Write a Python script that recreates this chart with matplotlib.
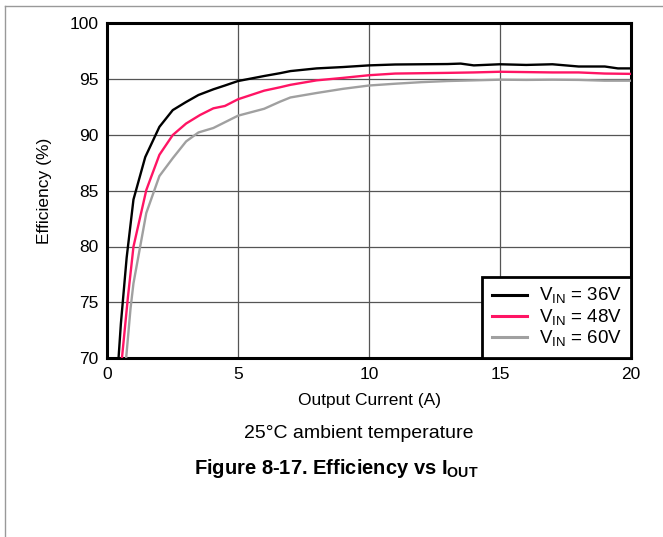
import matplotlib
matplotlib.use('Agg')
import matplotlib.pyplot as plt
from matplotlib.lines import Line2D

plt.rcParams['font.family'] = ['Liberation Sans', 'DejaVu Sans']
plt.rcParams['mathtext.fontset'] = 'custom'
plt.rcParams['mathtext.rm'] = 'Liberation Sans'
plt.rcParams['mathtext.bf'] = 'Liberation Sans:bold'

# data (output current A, efficiency %)
i_36 = [0.40, 0.44, 0.53, 0.75, 1.01, 1.46, 2.0, 2.51, 3.0, 3.49, 4.06, 4.5, 5.0, 6.0,
        6.6, 7.0, 8.0, 9.0, 10.0, 11.0, 12.0, 13.0, 13.5, 14.0, 15.0, 16.0, 17.0, 18.0,
        19.0, 19.5, 20.0]
eff_36 = [68.0, 70.0, 73.1, 79.0, 84.2, 88.0, 90.7, 92.2, 92.9, 93.55, 94.06, 94.4, 94.8,
          95.25, 95.5, 95.69, 95.93, 96.05, 96.2, 96.28, 96.3, 96.32, 96.36, 96.2, 96.3,
          96.24, 96.3, 96.1, 96.1, 95.93, 95.93]

i_48 = [0.52, 0.57, 0.8, 1.01, 1.5, 2.0, 2.51, 3.02, 3.55, 4.06, 4.5, 5.0, 6.0, 6.6, 7.0,
        8.0, 9.0, 10.0, 11.0, 12.0, 13.0, 14.0, 15.0, 16.0, 17.0, 18.0, 19.0, 20.0]
eff_48 = [68.0, 70.0, 75.5, 79.98, 85.05, 88.2, 89.97, 91.0, 91.76, 92.36, 92.57, 93.17,
          93.94, 94.24, 94.46, 94.86, 95.08, 95.32, 95.47, 95.5, 95.53, 95.57, 95.63,
          95.6, 95.57, 95.57, 95.47, 95.44]

i_60 = [0.68, 0.73, 0.9, 1.01, 1.5, 2.0, 2.51, 3.02, 3.49, 4.06, 5.0, 6.0, 6.6, 7.0, 8.0,
        9.0, 10.0, 11.0, 12.0, 13.0, 14.0, 15.0, 16.0, 17.0, 18.0, 19.0, 20.0]
eff_60 = [68.0, 70.0, 74.5, 76.7, 83.0, 86.3, 87.9, 89.4, 90.2, 90.6, 91.7, 92.32, 92.95,
          93.33, 93.73, 94.1, 94.4, 94.56, 94.7, 94.8, 94.86, 94.92, 94.9, 94.92, 94.9,
          94.83, 94.83]

labels = [r'V$_{\mathrm{IN}}$ = 36V', r'V$_{\mathrm{IN}}$ = 48V', r'V$_{\mathrm{IN}}$ = 60V']
colors = ['#000000', '#ff1464', '#a0a0a0']

fig = plt.figure(figsize=(6.63, 5.37), dpi=100)
ax = fig.add_axes([107 / 663, 1 - 358.3 / 537, 524 / 663, 335.4 / 537])

ax.plot(i_36, eff_36, color=colors[0], linewidth=1.7, zorder=3)
ax.plot(i_48, eff_48, color=colors[1], linewidth=1.7, zorder=3)
ax.plot(i_60, eff_60, color=colors[2], linewidth=1.7, zorder=3)

ax.set_xlim(0, 20)
ax.set_ylim(70, 100)
ax.set_xticks([0, 5, 10, 15, 20])
ax.set_yticks([70, 75, 80, 85, 90, 95, 100])
ax.grid(color='#555555', linewidth=0.9)
ax.tick_params(length=0, labelsize=12.5, pad=6)
for s in ax.spines.values():
    s.set_linewidth(2.2)

ax.set_xlabel('Output Current (A)', fontsize=12.5, labelpad=8)
ax.set_ylabel('Efficiency (%)', fontsize=12.5, labelpad=13)

handles = [Line2D([], [], color=c, linewidth=2.2) for c in colors]
leg = ax.legend(handles, labels, loc='lower right', fontsize=13.5, fancybox=False,
                framealpha=1, edgecolor='black', borderaxespad=0, handlelength=1.9,
                handletextpad=0.6, labelspacing=0.05, borderpad=0.5)
leg.get_frame().set_linewidth(2)

fig.text(359 / 663, 1 - 433 / 537, '25°C ambient temperature', fontsize=14,
         ha='center', va='center')
fig.text(336 / 663, 1 - 469 / 537, r'Figure 8-17. Efficiency vs I$_{\mathbf{OUT}}$',
         fontsize=14.5, fontweight='bold', ha='center', va='center')

# thin page frame at top and left
fig.add_artist(Line2D([5 / 663, 1], [1 - 6 / 537, 1 - 6 / 537], color='#999999', linewidth=1))
fig.add_artist(Line2D([5 / 663, 5 / 663], [0, 1 - 6 / 537], color='#999999', linewidth=1))

fig.savefig('out.png', dpi=100)
